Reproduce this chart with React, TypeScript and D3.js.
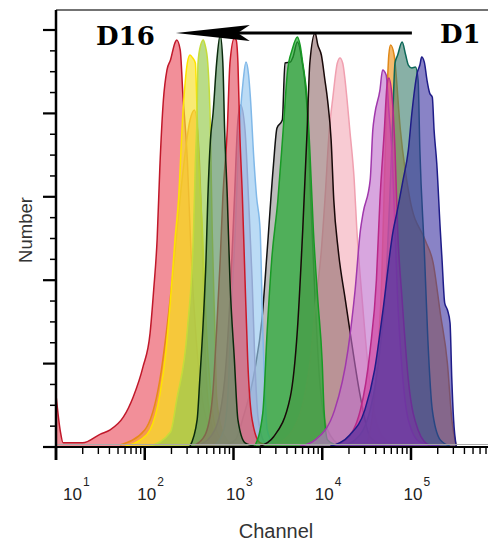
import React from 'react';
import * as d3 from 'd3';

// ---- data: [log10(channel), count] ----
const d16Red: [number, number][] = [[1.00,125],[1.05,36],[1.08,10],[1.30,10],[1.50,31],[1.61,41],[1.76,72],[1.87,120],[1.98,192],[2.06,273],[2.10,375],[2.14,500],[2.17,670],[2.21,832],[2.25,904],[2.29,928],[2.34,969],[2.36,976],[2.40,952],[2.43,844],[2.48,688],[2.52,472],[2.58,257],[2.65,113],[2.74,41],[2.87,10],[3.07,2]];
const orangeLeft: [number, number][] = [[1.72,5],[2.00,41],[2.17,161],[2.31,400],[2.42,640],[2.51,784],[2.56,808],[2.61,712],[2.65,472],[2.68,233],[2.74,65],[2.85,10],[3.02,2]];
const yellow: [number, number][] = [[1.78,2],[1.95,17],[2.06,41],[2.17,125],[2.24,233],[2.29,353],[2.34,496],[2.38,592],[2.43,801],[2.48,921],[2.51,940],[2.54,933],[2.57,921],[2.59,801],[2.61,676],[2.65,520],[2.69,305],[2.74,137],[2.79,53],[2.90,10],[3.07,2]];
const lightGreen: [number, number][] = [[2.06,2],[2.29,36],[2.36,113],[2.48,281],[2.55,520],[2.57,681],[2.59,801],[2.60,921],[2.63,964],[2.66,976],[2.68,964],[2.71,921],[2.74,761],[2.76,520],[2.79,281],[2.81,120],[2.87,41],[2.98,7]];
const gray: [number, number][] = [[2.90,5],[3.02,17],[3.11,72],[3.24,185],[3.32,305],[3.38,472],[3.45,676],[3.49,765],[3.55,784],[3.58,921],[3.64,923],[3.67,935],[3.72,971],[3.77,928],[3.83,808],[3.87,592],[3.92,353],[3.97,161],[4.06,41],[4.20,5]];
const pink: [number, number][] = [[3.47,5],[3.67,41],[3.86,201],[3.93,353],[3.99,472],[4.03,592],[4.08,761],[4.12,839],[4.17,921],[4.20,933],[4.23,921],[4.28,832],[4.31,761],[4.36,640],[4.39,520],[4.45,353],[4.52,185],[4.59,77],[4.71,17],[4.88,2]];
const lavender: [number, number][] = [[2.62,5],[2.79,41],[2.90,161],[2.96,353],[3.01,592],[3.05,784],[3.08,820],[3.13,760],[3.17,592],[3.21,400],[3.24,209],[3.28,65],[3.36,10],[3.53,2]];
const lightBlue: [number, number][] = [[2.79,5],[2.89,41],[2.94,137],[2.97,305],[3.02,520],[3.05,688],[3.08,808],[3.11,880],[3.14,923],[3.17,892],[3.19,839],[3.23,688],[3.26,600],[3.30,520],[3.33,281],[3.38,41],[3.45,7]];
const red2: [number, number][] = [[2.57,5],[2.68,29],[2.76,113],[2.81,281],[2.85,448],[2.88,600],[2.93,761],[2.96,921],[3.01,981],[3.03,976],[3.05,921],[3.07,761],[3.10,600],[3.13,400],[3.16,209],[3.21,65],[3.30,10],[3.47,2]];
const darkGreen: [number, number][] = [[2.51,2],[2.59,65],[2.62,161],[2.66,305],[2.69,448],[2.71,592],[2.74,736],[2.77,801],[2.81,921],[2.85,988],[2.88,921],[2.90,761],[2.93,600],[2.96,400],[3.01,209],[3.05,65],[3.13,10],[3.24,2]];
const brown: [number, number][] = [[3.30,2],[3.45,24],[3.64,120],[3.72,281],[3.78,520],[3.83,761],[3.86,921],[3.92,993],[3.95,964],[3.99,940],[4.03,880],[4.06,832],[4.10,736],[4.13,592],[4.18,472],[4.26,353],[4.31,281],[4.43,120],[4.54,24],[4.71,2]];
const green: [number, number][] = [[3.24,2],[3.33,82],[3.38,281],[3.43,448],[3.50,592],[3.56,761],[3.61,904],[3.66,952],[3.72,983],[3.75,964],[3.78,921],[3.83,832],[3.86,712],[3.90,520],[3.95,353],[4.00,201],[4.02,89],[4.06,17],[4.20,2]];
const orangeRight: [number, number][] = [[4.50,2],[4.60,150],[4.67,400],[4.72,784],[4.75,940],[4.77,964],[4.81,940],[4.88,761],[4.99,592],[5.16,496],[5.25,441],[5.33,321],[5.41,201],[5.46,65],[5.51,2]];
const teal: [number, number][] = [[4.20,2],[4.37,17],[4.54,89],[4.65,233],[4.72,400],[4.76,592],[4.79,761],[4.82,921],[4.85,940],[4.90,971],[4.94,940],[4.97,916],[5.01,909],[5.05,911],[5.08,880],[5.10,712],[5.15,472],[5.19,257],[5.24,89],[5.33,17],[5.44,2]];
const orchid: [number, number][] = [[3.75,2],[3.92,17],[4.14,89],[4.29,233],[4.37,376],[4.43,520],[4.46,561],[4.54,640],[4.57,761],[4.59,796],[4.65,856],[4.68,904],[4.72,892],[4.75,808],[4.79,688],[4.82,520],[4.85,353],[4.90,185],[4.97,65],[5.10,12],[5.33,2]];
const deepPink: [number, number][] = [[4.09,2],[4.26,17],[4.43,89],[4.54,233],[4.61,400],[4.65,592],[4.70,761],[4.73,868],[4.75,885],[4.79,832],[4.82,712],[4.85,520],[4.90,353],[4.97,161],[5.08,41],[5.21,2]];
const d1Navy: [number, number][] = [[4.09,2],[4.31,29],[4.48,89],[4.59,185],[4.68,321],[4.80,520],[4.84,561],[4.91,640],[4.97,712],[5.01,801],[5.07,897],[5.10,916],[5.12,935],[5.15,923],[5.18,880],[5.21,849],[5.24,839],[5.26,760],[5.29,681],[5.33,520],[5.35,448],[5.38,345],[5.41,329],[5.44,297],[5.46,161],[5.48,65],[5.51,2]];

const seriesData = [d16Red, orangeLeft, yellow, lightGreen, gray, pink, lavender, lightBlue, red2, darkGreen, brown, green, orangeRight, teal, orchid, deepPink, d1Navy];
const fillColors = ['#ec5a68','#f59a30','#f6e030','#98cc50','#999999','#f4b0bc','#a888b8','#98c8f0','#e45464','#5a9060','#9a7676','#22aa30','#f09a28','#3f7f70','#c070cc','#d040a0','#3a30a0'];
const strokeColors = ['#c0182a','#e88a18','#ffe400','#c5dc3a','#111111','#f0a0b0','#8a6a98','#80b8e8','#cc1828','#0a2a0c','#180808','#189a25','#e08818','#0c6858','#a038ac','#b82888','#1e1c88'];
const fillAlpha = [0.68,0.68,0.68,0.68,0.66,0.66,0.66,0.66,0.66,0.66,0.66,0.7,0.68,0.62,0.62,0.66,0.6];
const lateStroke = [10];

const xDecades = [1, 2, 3, 4, 5];
const xMaxLog = 5.8676;
const yMajor = [0, 200, 400, 600, 800, 1000];
const yMinor = [50, 100, 150, 250, 300, 350, 450, 500, 550, 650, 700, 750, 850, 900, 950];
const arrowFromLog = 5.01;
const arrowToLog = 2.35;
const arrowCount = 993;
const labelLeft = 'D16';
const labelRight = 'D1';

export default function App() {
  const L = 56, R = 488, T = 10, B = 447;
  const x = d3.scaleLog().domain([10, Math.pow(10, xMaxLog)]).range([L, R]);
  const y = d3.scaleLinear().domain([0, 1000]).range([B, 30]);
  const px = (d: [number, number]) => x(Math.pow(10, d[0]));
  const area = d3.area<[number, number]>().x(px).y0(y(0)).y1(d => y(d[1])).curve(d3.curveMonotoneX);
  const line = d3.line<[number, number]>().x(px).y(d => y(d[1])).curve(d3.curveMonotoneX);

  const minorX: number[] = [];
  xDecades.forEach(k => { for (let m = 2; m <= 9; m++) { const v = m * Math.pow(10, k); if (v < Math.pow(10, xMaxLog)) minorX.push(v); } });

  const ax = x(Math.pow(10, arrowFromLog));
  const tip = x(Math.pow(10, arrowToLog));
  const ay = y(arrowCount);
  const sans = "'Liberation Sans', Arial, sans-serif";

  return (
    <svg width={488} height={546} style={{ position: 'absolute', left: 0, top: 0, background: '#fff' }}>
      <defs>
        <clipPath id="plotClip"><rect x={L} y={T} width={R - L} height={B - T} /></clipPath>
      </defs>
      <rect x={0} y={0} width={488} height={546} fill="#fff" />
      <g clipPath="url(#plotClip)">
        {seriesData.map((s, i) => (
          <g key={i}>
            <path d={area(s) || ''} fill={fillColors[i]} fillOpacity={fillAlpha[i]} />
            {lateStroke.indexOf(i) < 0 && <path d={line(s) || ''} fill="none" stroke={strokeColors[i]} strokeWidth={1.5} />}
            {lateStroke.map(j => j === i - 1 ? <path key={'ls' + j} d={line(seriesData[j]) || ''} fill="none" stroke={strokeColors[j]} strokeWidth={1.5} /> : null)}
          </g>
        ))}
        <line x1={L} x2={R} y1={y(6)} y2={y(6)} stroke="#aaa" strokeWidth={1} />
      </g>
      {/* frame */}
      <line x1={L} x2={R} y1={T} y2={T} stroke="#444" strokeWidth={1.5} />
      <line x1={L} x2={L} y1={T} y2={460} stroke="#000" strokeWidth={2.5} />
      <line x1={L} x2={R} y1={B} y2={B} stroke="#000" strokeWidth={2} />
      {yMajor.map(v => <line key={'ym' + v} x1={43} x2={L} y1={y(v)} y2={y(v)} stroke="#000" strokeWidth={2.2} />)}
      {yMinor.map(v => <line key={'yn' + v} x1={50} x2={L} y1={y(v)} y2={y(v)} stroke="#000" strokeWidth={1.5} />)}
      {xDecades.map(k => <line key={'xm' + k} x1={x(Math.pow(10, k))} x2={x(Math.pow(10, k))} y1={B} y2={460} stroke="#000" strokeWidth={2.5} />)}
      {minorX.map(v => <line key={'xn' + v} x1={x(v)} x2={x(v)} y1={B} y2={454} stroke="#000" strokeWidth={1.4} />)}
      {xDecades.map((k, i) => (
        <text key={'xl' + k} x={i === 0 ? x(Math.pow(10, k)) + 7 : x(Math.pow(10, k)) - 7.5} y={500} fontFamily={sans} fontSize={17} fill="#222">
          10<tspan dx={1} dy={-14} fontSize={12}>{k}</tspan>
        </text>
      ))}
      <text x={276} y={538} textAnchor="middle" fontFamily={sans} fontSize={20} fill="#333">Channel</text>
      <text transform="translate(32,230) rotate(-90)" textAnchor="middle" fontFamily={sans} fontSize={18.5} fill="#333">Number</text>
      {/* arrow */}
      <line x1={ax} x2={tip + 30} y1={ay} y2={ay} stroke="#000" strokeWidth={3} />
      <path d={`M${tip},${ay} L${tip + 74},${ay - 8} L${tip + 62},${ay} L${tip + 74},${ay + 8} Z`} fill="#000" />
      <text x={96} y={45} fontFamily="'DejaVu Serif', serif" fontWeight="bold" fontSize={26} fill="#000">{labelLeft}</text>
      <text x={440} y={43} fontFamily="'DejaVu Serif', serif" fontWeight="bold" fontSize={26} fill="#000">{labelRight}</text>
    </svg>
  );
}
